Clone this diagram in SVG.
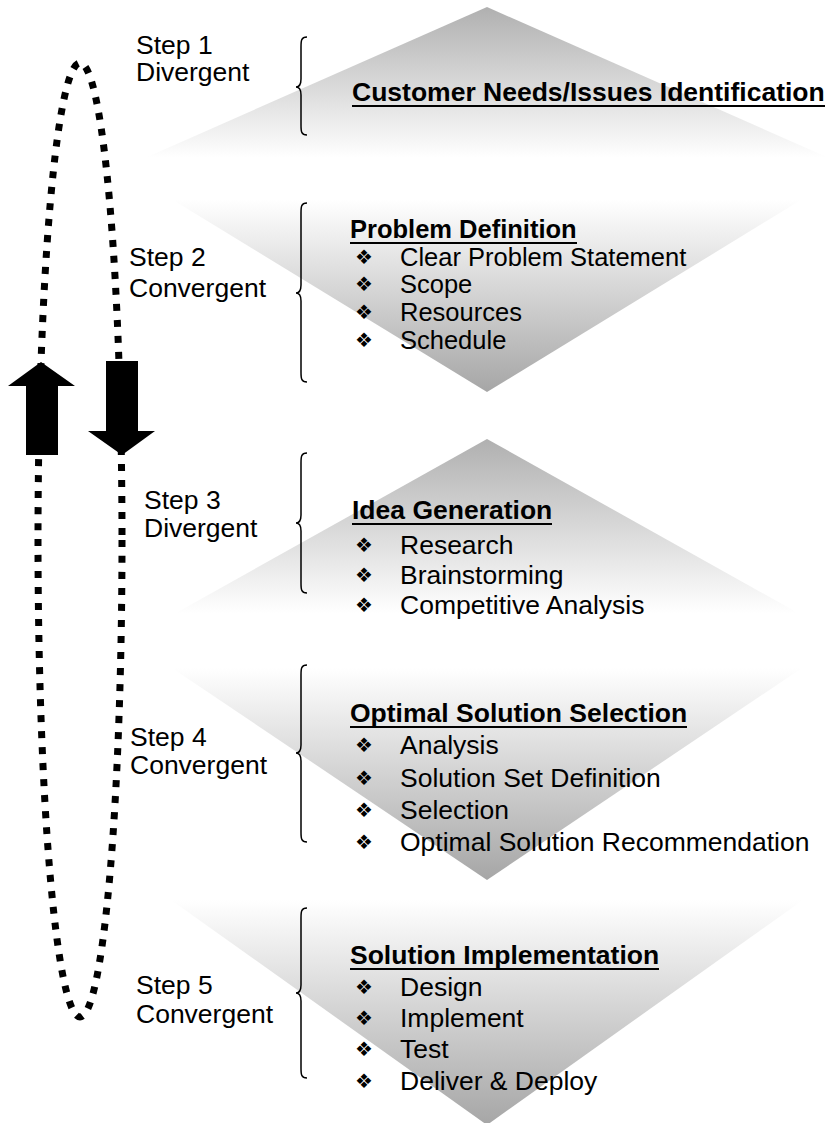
<svg xmlns="http://www.w3.org/2000/svg" width="830" height="1123" viewBox="0 0 830 1123">
<defs>
<linearGradient id="gUp" x1="0" y1="0" x2="0" y2="1">
<stop offset="0" stop-color="#b0b0b0"/>
<stop offset="1" stop-color="#ffffff"/>
</linearGradient>
<linearGradient id="gDown" x1="0" y1="0" x2="0" y2="1">
<stop offset="0" stop-color="#ffffff"/>
<stop offset="1" stop-color="#a6a6a6"/>
</linearGradient>
<style>
.t{font-family:"Liberation Sans",Arial,sans-serif;font-size:26.5px;fill:#000}
.s2{font-size:25.5px}
.b{font-weight:bold}
.bul{font-family:"DejaVu Sans",sans-serif;font-size:20px;fill:#000;text-anchor:middle}
.brace{fill:none;stroke:#000;stroke-width:1.5}
.ul{stroke:#000;stroke-width:2}
.loop{fill:none;stroke:#000;stroke-width:7;stroke-dasharray:7 9}
.arr{fill:#000}
</style>
</defs>
<rect width="830" height="1123" fill="#fff"/>

<g id="step1">
<polygon points="487,7 829,158 145,158" fill="url(#gUp)"/>
<path class="brace" d="M307,37 C301,37 301,41 301,47 L301,79 C301,84 299,87 296,87 C299,87 301,90 301,95 L301,125 C301,131 301,135 307,135"/>
<text class="t" x="136" y="54">Step 1</text>
<text class="t" x="136" y="81">Divergent</text>
<text class="t b" x="352" y="101">Customer Needs/Issues Identification</text>
<line class="ul" x1="352" y1="106" x2="825" y2="106"/>
</g>

<g id="step2">
<polygon points="173,200 801,200 487,392" fill="url(#gDown)"/>
<path class="brace" d="M307,203 C301,203 301,207 301,213 L301,285 C301,290 299,293 296,293 C299,293 301,296 301,301 L301,372 C301,378 301,382 307,382"/>
<text class="t" x="129" y="266">Step 2</text>
<text class="t" x="129" y="297">Convergent</text>
<text class="t s2 b" x="350" y="238">Problem Definition</text>
<line class="ul" x1="350" y1="243" x2="577" y2="243"/>
<text class="bul" x="364" y="264">❖</text>
<text class="t s2" x="400" y="266">Clear Problem Statement</text>
<text class="bul" x="364" y="291">❖</text>
<text class="t s2" x="400" y="293">Scope</text>
<text class="bul" x="364" y="319">❖</text>
<text class="t s2" x="400" y="321">Resources</text>
<text class="bul" x="364" y="347">❖</text>
<text class="t s2" x="400" y="349">Schedule</text>
</g>

<g id="step3">
<polygon points="487,439 798,613 176,613" fill="url(#gUp)"/>
<path class="brace" d="M307,453 C301,453 301,457 301,463 L301,515 C301,520 299,523 296,523 C299,523 301,526 301,531 L301,583 C301,589 301,593 307,593"/>
<text class="t" x="144" y="509">Step 3</text>
<text class="t" x="144" y="537">Divergent</text>
<text class="t b" x="352" y="519">Idea Generation</text>
<line class="ul" x1="352" y1="524" x2="552" y2="524"/>
<text class="bul" x="364" y="552">❖</text>
<text class="t" x="400" y="554">Research</text>
<text class="bul" x="364" y="582">❖</text>
<text class="t" x="400" y="584">Brainstorming</text>
<text class="bul" x="364" y="612">❖</text>
<text class="t" x="400" y="614">Competitive Analysis</text>
</g>

<g id="step4">
<polygon points="172,668 802,668 487,880" fill="url(#gDown)"/>
<path class="brace" d="M307,665 C301,665 301,669 301,675 L301,745 C301,750 299,753 296,753 C299,753 301,756 301,761 L301,832 C301,838 301,842 307,842"/>
<text class="t" x="130" y="746">Step 4</text>
<text class="t" x="130" y="774">Convergent</text>
<text class="t b" x="350" y="722">Optimal Solution Selection</text>
<line class="ul" x1="350" y1="727" x2="687" y2="727"/>
<text class="bul" x="364" y="752">❖</text>
<text class="t" x="400" y="754">Analysis</text>
<text class="bul" x="364" y="785">❖</text>
<text class="t" x="400" y="787">Solution Set Definition</text>
<text class="bul" x="364" y="817">❖</text>
<text class="t" x="400" y="819">Selection</text>
<text class="bul" x="364" y="849">❖</text>
<text class="t" x="400" y="851">Optimal Solution Recommendation</text>
</g>

<g id="step5">
<polygon points="171,900 803,900 487,1125" fill="url(#gDown)"/>
<path class="brace" d="M307,908 C301,908 301,912 301,918 L301,985 C301,990 299,993 296,993 C299,993 301,996 301,1001 L301,1068 C301,1074 301,1078 307,1078"/>
<text class="t" x="136" y="994">Step 5</text>
<text class="t" x="136" y="1023">Convergent</text>
<text class="t b" x="350" y="964">Solution Implementation</text>
<line class="ul" x1="350" y1="969" x2="659" y2="969"/>
<text class="bul" x="364" y="994">❖</text>
<text class="t" x="400" y="996">Design</text>
<text class="bul" x="364" y="1025">❖</text>
<text class="t" x="400" y="1027">Implement</text>
<text class="bul" x="364" y="1056">❖</text>
<text class="t" x="400" y="1058">Test</text>
<text class="bul" x="364" y="1088">❖</text>
<text class="t" x="400" y="1090">Deliver &amp; Deploy</text>
</g>

<g id="connectors">
<ellipse class="loop" cx="80" cy="540" rx="42" ry="477"/>
<polygon class="arr" points="41,362 75,386 58,386 58,455 26,455 26,386 8,386"/>
<polygon class="arr" points="106,361 138,361 138,431 155,431 122,455 88,431 106,431"/>
</g>
</svg>
